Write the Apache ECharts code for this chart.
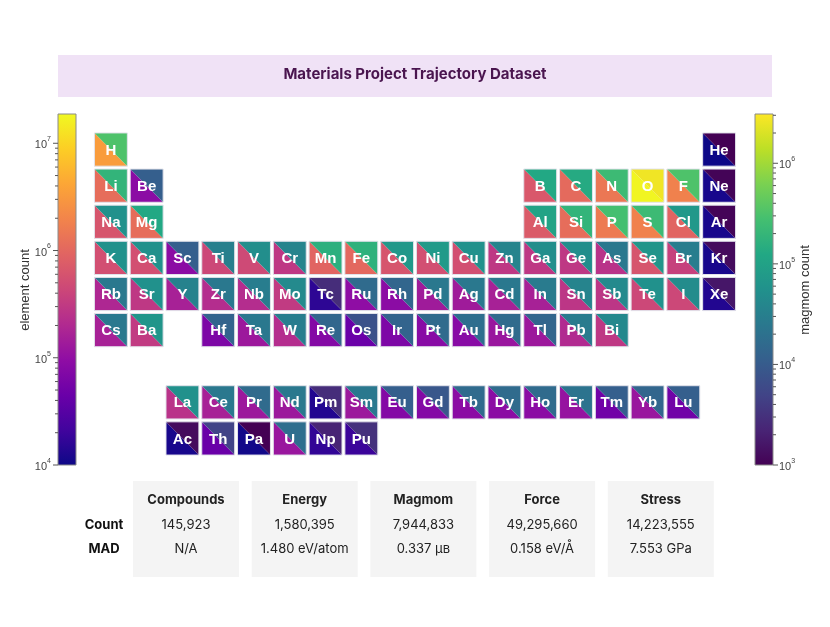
<!DOCTYPE html>
<html>
<head>
<meta charset="utf-8">
<script src="https://cdn.jsdelivr.net/npm/echarts@6/dist/echarts.min.js"></script>
<style>
  html, body { margin: 0; padding: 0; background: #fff; }
  #chart { width: 830px; height: 627px; }
</style>
</head>
<body>
<div id="chart"></div>
<script>
// elements shown, in atomic-number order (H..Bi, then Ac..Pu)
const symbols = [
  "H", "He", "Li", "Be", "B", "C", "N", "O", "F", "Ne",
  "Na", "Mg", "Al", "Si", "P", "S", "Cl", "Ar",
  "K", "Ca", "Sc", "Ti", "V", "Cr", "Mn", "Fe", "Co", "Ni", "Cu", "Zn", "Ga", "Ge", "As", "Se", "Br", "Kr",
  "Rb", "Sr", "Y", "Zr", "Nb", "Mo", "Tc", "Ru", "Rh", "Pd", "Ag", "Cd", "In", "Sn", "Sb", "Te", "I", "Xe",
  "Cs", "Ba", "La", "Ce", "Pr", "Nd", "Pm", "Sm", "Eu", "Gd", "Tb", "Dy", "Ho", "Er", "Tm", "Yb", "Lu",
  "Hf", "Ta", "W", "Re", "Os", "Ir", "Pt", "Au", "Hg", "Tl", "Pb", "Bi",
  "Ac", "Th", "Pa", "U", "Np", "Pu"
];

const elementCount = [
  3.3e6, 1.0e4, 1.15e6, 8.9e4, 6.8e5, 1.07e6, 1.45e6, 1.74e7, 1.82e6, 1.17e4,
  6.3e5, 1.15e6, 7.2e5, 1.15e6, 1.55e6, 1.82e6, 9.1e5, 1.17e4,
  5.4e5, 5.4e5, 8.9e4, 4.4e5, 4.7e5, 2.95e5, 9.1e5, 1.0e6, 6.3e5, 5.4e5, 5.4e5, 2.95e5, 2.95e5, 2.95e5, 2.57e5, 6.3e5, 3.7e5, 1.17e4,
  1.9e5, 2.95e5, 1.62e5, 2.19e5, 2.19e5, 3.16e5, 1.58e4, 9.5e4, 8.9e4, 1.38e5, 1.38e5, 1.62e5, 1.62e5, 2.75e5, 2.75e5, 4.4e5, 4.4e5, 1.35e4,
  1.62e5, 3.16e5, 2.57e5, 1.62e5, 1.29e5, 1.29e5, 1.35e4, 1.29e5, 7.6e4, 7.6e4, 8.9e4, 8.9e4, 8.9e4, 1.12e5, 5.2e4, 1.2e5, 5.2e4,
  6.6e4, 1.29e5, 2.19e5, 7.6e4, 4.5e4, 6.6e4, 8.3e4, 8.3e4, 1.2e5, 1.29e5, 2.04e5, 2.95e5,
  1.17e4, 4.5e4, 1.07e4, 1.2e5, 1.7e4, 1.95e4
];

const magmomCount = [
  3.2e5, 1.0e3, 1.86e5, 1.12e4, 1.23e5, 1.35e5, 2.34e5, 2.63e6, 3.2e5, 1.07e3,
  5.6e4, 1.23e5, 1.05e5, 1.86e5, 2.75e5, 2.34e5, 7.1e4, 1.07e3,
  5.6e4, 5.6e4, 1.12e4, 3.16e4, 5.1e4, 3.7e4, 1.58e5, 1.7e5, 7.1e4, 7.6e4, 5.6e4, 3.7e4, 5.1e4, 5.1e4, 2.5e4, 6.5e4, 2.95e4, 1.26e3,
  2.5e4, 5.6e4, 3.47e4, 2.5e4, 2.95e4, 4.4e4, 2.8e3, 1.66e4, 1.41e4, 2.5e4, 2.5e4, 2.5e4, 2.7e4, 3.7e4, 4.4e4, 5.6e4, 4.8e4, 1.62e3,
  2.5e4, 6.5e4, 5.6e4, 2.5e4, 1.66e4, 2.5e4, 2.8e3, 2.5e4, 1.12e4, 8.7e3, 1.66e4, 1.66e4, 1.66e4, 2.14e4, 1.12e4, 1.41e4, 1.12e4,
  1.32e4, 2.5e4, 2.95e4, 1.41e4, 7.4e3, 1.32e4, 1.66e4, 1.82e4, 1.66e4, 1.41e4, 2.7e4, 4.1e4,
  1.26e3, 5.0e3, 1.0e3, 1.82e4, 2.24e3, 3.1e3
];

// colour bar ranges (log10)
const elemRange = [4, 7.273];
const magRange = [3, 6.49];

// summary table
const tableCols = ["Compounds", "Energy", "Magmom", "Force", "Stress"];
const tableRows = ["Count", "MAD"];
const countRow = ["145,923", "1,580,395", "7,944,833", "49,295,660", "14,223,555"];
const madRow = ["N/A", "1.480 eV/atom", "0.337 μʙ", "0.158 eV/Å", "7.553 GPa"];

const plasma = ["#0d0887", "#41049d", "#6a00a8", "#8f0da4", "#b12a90", "#cc4778",
  "#e16462", "#f2844b", "#fca636", "#fcce25", "#f0f921"];
const viridis = ["#440154", "#482475", "#414487", "#355f8d", "#2a788e", "#21918c",
  "#22a884", "#44bf70", "#7ad151", "#bddf26", "#fde725"];

// atomic number of i-th entry (Po..Ra are missing)
function atomicNumber(i) {
  return i < 83 ? i + 1 : i + 6;
}

// [column, row] in the periodic table
function cellPos(z) {
  if (z === 1) return [1, 1];
  if (z === 2) return [18, 1];
  if (z <= 4) return [z - 2, 2];
  if (z <= 10) return [z + 8, 2];
  if (z <= 12) return [z - 10, 3];
  if (z <= 18) return [z, 3];
  if (z <= 36) return [z - 18, 4];
  if (z <= 54) return [z - 36, 5];
  if (z <= 56) return [z - 54, 6];
  if (z <= 71) return [z - 54, 8];
  if (z <= 86) return [z - 68, 6];
  if (z <= 88) return [z - 86, 7];
  return [z - 86, 9];
}

const elemData = symbols.map((s, i) => {
  const p = cellPos(atomicNumber(i));
  return [p[0], p[1], Math.log10(elementCount[i])];
});
const magData = symbols.map((s, i) => {
  const p = cellPos(atomicNumber(i));
  return [p[0], p[1], Math.log10(magmomCount[i])];
});

function logTicks(range) {
  let major = [], minor = [];
  for (let n = Math.floor(range[0]); n <= Math.ceil(range[1]); n++) {
    for (let k = 1; k < 10; k++) {
      const v = n + Math.log10(k);
      if (v < range[0] - 1e-9 || v > range[1]) continue;
      (k === 1 ? major : minor).push([v]);
    }
  }
  return { major, minor };
}
const elemTicks = logTicks(elemRange);
const magTicks = logTicks(magRange);

const CELL = 0.92;

function lowerTriangle(params, api) {
  const c = api.coord([api.value(0), api.value(1)]);
  const sz = api.size([1, 1]);
  const hw = sz[0] * CELL / 2, hh = sz[1] * CELL / 2;
  return {
    type: "polygon",
    shape: { points: [[c[0] - hw, c[1] - hh], [c[0] - hw, c[1] + hh], [c[0] + hw, c[1] + hh]] },
    style: { fill: api.visual("color") }
  };
}

function upperTriangle(params, api) {
  const c = api.coord([api.value(0), api.value(1)]);
  const sz = api.size([1, 1]);
  const hw = sz[0] * CELL / 2, hh = sz[1] * CELL / 2;
  return {
    type: "group",
    children: [
      {
        type: "polygon",
        shape: { points: [[c[0] - hw, c[1] - hh], [c[0] + hw, c[1] - hh], [c[0] + hw, c[1] + hh]] },
        style: { fill: api.visual("color") }
      },
      {
        type: "rect",
        shape: { x: c[0] - hw, y: c[1] - hh, width: hw * 2, height: hh * 2 },
        style: { fill: null, stroke: "#e2e2ea", lineWidth: 1 }
      },
      {
        type: "text",
        x: c[0], y: c[1] + 1,
        style: {
          text: symbols[params.dataIndex],
          fill: "#fff",
          font: "bold 15px 'Liberation Sans', Arial, sans-serif",
          align: "center",
          verticalAlign: "middle"
        }
      }
    ]
  };
}

function barRenderer(range, colors) {
  return function (params, api) {
    const a = api.coord([0, range[1]]);
    const b = api.coord([1, range[0]]);
    const stops = colors.map((c, i) => ({ offset: i / (colors.length - 1), color: c }));
    return {
      type: "rect",
      shape: { x: a[0], y: a[1], width: b[0] - a[0], height: b[1] - a[1] },
      style: {
        fill: new echarts.graphic.LinearGradient(0, 1, 0, 0, stops),
        stroke: "#8a8a8a",
        lineWidth: 1
      }
    };
  };
}

function tickRenderer(side, len) {
  return function (params, api) {
    const p = api.coord([side, api.value(0)]);
    const dx = side === 0 ? -len : len;
    return {
      type: "line",
      shape: { x1: p[0], y1: p[1], x2: p[0] + dx, y2: p[1] },
      style: { stroke: "#555", lineWidth: 1 }
    };
  };
}

const labelFont = "'Liberation Sans', Arial, sans-serif";
const supLabel = {
  color: "#444",
  fontFamily: labelFont,
  formatter: v => Math.abs(v - Math.round(v)) < 1e-6 ? "{b|10}{s|" + Math.round(v) + "}" : "",
  rich: {
    b: { fontSize: 11, color: "#444", fontFamily: labelFont, lineHeight: 15, verticalAlign: "bottom" },
    s: { fontSize: 7, color: "#444", fontFamily: labelFont, lineHeight: 15, verticalAlign: "top", padding: [0, 0, 6, 0] }
  }
};

// title banner, colour bar titles, summary table
const barTitleFont = "13px 'Liberation Sans', Arial, sans-serif";
const graphics = [
  {
    type: "rect", left: 58, top: 55, shape: { width: 714, height: 42 },
    style: { fill: "#f0e2f6" }
  },
  {
    type: "text", left: "center", top: 67,
    style: {
      text: "Materials Project Trajectory Dataset",
      fill: "#4a154f",
      font: "bold 15px Inter, 'Noto Sans', sans-serif"
    }
  },
  {
    type: "text", x: 25, y: 290, rotation: Math.PI / 2,
    style: { text: "element count", fill: "#333", font: barTitleFont, align: "center", verticalAlign: "middle" }
  },
  {
    type: "text", x: 805, y: 290, rotation: Math.PI / 2,
    style: { text: "magmom count", fill: "#333", font: barTitleFont, align: "center", verticalAlign: "middle" }
  }
];
const boxLeft = 133, boxStep = 118.7, boxW = 106;
tableCols.forEach((name, j) => {
  const x = boxLeft + j * boxStep;
  const cx = x + boxW / 2;
  graphics.push({
    type: "rect", left: x, top: 481, shape: { width: boxW, height: 96 },
    style: { fill: "#f4f4f4" }
  });
  [[name, 500, "bold"], [countRow[j], 525, "normal"], [madRow[j], 549, "normal"]].forEach(t => {
    graphics.push({
      type: "text", x: cx, y: t[1],
      style: {
        text: t[0], fill: "#222", align: "center", verticalAlign: "middle",
        font: t[2] + " 13px Inter, 'Noto Sans', sans-serif"
      }
    });
  });
});
tableRows.forEach((name, r) => {
  graphics.push({
    type: "text", x: 104, y: 525 + r * 24,
    style: {
      text: name, fill: "#111", align: "center", verticalAlign: "middle",
      font: "bold 13px Inter, 'Noto Sans', sans-serif"
    }
  });
});

const chart = echarts.init(document.getElementById("chart"));
const option = {
  animation: false,
  backgroundColor: "#fff",
  grid: [
    { left: 93, top: 131.5, width: 644, height: 325 },
    { left: 58, top: 114, width: 18, height: 351 },
    { left: 755, top: 114, width: 18, height: 351 }
  ],
  xAxis: [
    { type: "value", gridIndex: 0, min: 0.5, max: 18.5, show: false },
    { type: "value", gridIndex: 1, min: 0, max: 1, show: false },
    { type: "value", gridIndex: 2, min: 0, max: 1, show: false }
  ],
  yAxis: [
    { type: "value", gridIndex: 0, min: 0.5, max: 9.5, inverse: true, show: false },
    {
      type: "value", gridIndex: 1, min: elemRange[0], max: elemRange[1], interval: 1,
      position: "left", splitLine: { show: false }, axisLine: { show: false }, axisTick: { show: false },
      axisLabel: Object.assign({ margin: 7 }, supLabel)
    },
    {
      type: "value", gridIndex: 2, min: magRange[0], max: magRange[1], interval: 1,
      position: "right", splitLine: { show: false }, axisLine: { show: false }, axisTick: { show: false },
      axisLabel: Object.assign({ margin: 6 }, supLabel)
    }
  ],
  visualMap: [
    { type: "continuous", show: false, seriesIndex: 0, dimension: 2, min: elemRange[0], max: elemRange[1], inRange: { color: plasma } },
    { type: "continuous", show: false, seriesIndex: 1, dimension: 2, min: magRange[0], max: magRange[1], inRange: { color: viridis } }
  ],
  series: [
    { type: "custom", xAxisIndex: 0, yAxisIndex: 0, data: elemData, renderItem: lowerTriangle },
    { type: "custom", xAxisIndex: 0, yAxisIndex: 0, data: magData, renderItem: upperTriangle },
    { type: "custom", xAxisIndex: 1, yAxisIndex: 1, data: [[0, elemRange[0]]], renderItem: barRenderer(elemRange, plasma) },
    { type: "custom", xAxisIndex: 1, yAxisIndex: 1, data: elemTicks.major, encode: { y: 0 }, renderItem: tickRenderer(0, 5) },
    { type: "custom", xAxisIndex: 1, yAxisIndex: 1, data: elemTicks.minor, encode: { y: 0 }, renderItem: tickRenderer(0, 3) },
    { type: "custom", xAxisIndex: 2, yAxisIndex: 2, data: [[0, magRange[0]]], renderItem: barRenderer(magRange, viridis) },
    { type: "custom", xAxisIndex: 2, yAxisIndex: 2, data: magTicks.major, encode: { y: 0 }, renderItem: tickRenderer(1, 5) },
    { type: "custom", xAxisIndex: 2, yAxisIndex: 2, data: magTicks.minor, encode: { y: 0 }, renderItem: tickRenderer(1, 3) }
  ],
  graphic: graphics
};
chart.setOption(option);
</script>
</body>
</html>
